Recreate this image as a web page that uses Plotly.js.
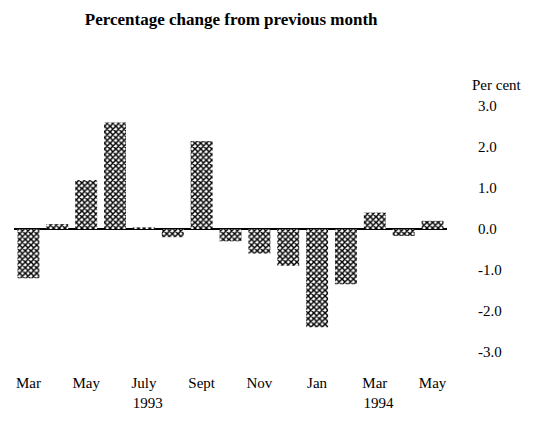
<!DOCTYPE html>
<html>
<head>
<meta charset="utf-8">
<script src="https://cdn.plot.ly/plotly-3.0.1.min.js"></script>
<style>html,body{margin:0;padding:0;background:#fff;}#chart{width:544px;height:427px;}</style>
</head>
<body>
<div id="chart"></div>
<script>
// Months Mar 1993 .. May 1994
const months = ["Mar 1993","Apr 1993","May 1993","Jun 1993","Jul 1993","Aug 1993","Sep 1993","Oct 1993","Nov 1993","Dec 1993","Jan 1994","Feb 1994","Mar 1994","Apr 1994","May 1994"];
const pctChange = [-1.2, 0.12, 1.2, 2.6, 0.04, -0.2, 2.15, -0.3, -0.6, -0.9, -2.4, -1.35, 0.4, -0.17, 0.2];
const xTickMonths = ["Mar 1993","May 1993","Jul 1993","Sep 1993","Nov 1993","Jan 1994","Mar 1994","May 1994"];
const xTickText = ["Mar","May","July<br>  1993","Sept","Nov","Jan","Mar<br>  1994","May"];
const yTickVals = [3, 2, 1, 0, -1, -2, -3];
const yTickText = ["3.0","2.0","1.0","0.0","-1.0","-2.0","-3.0"];

const serif = "Liberation Serif, Times New Roman, serif";

const trace = {
  type: "bar",
  x: months,
  y: pctChange,
  width: 0.76,
  marker: {
    color: "#ffffff",
    line: {width: 0},
    pattern: {shape: "x", fgcolor: "#000000", bgcolor: "#ffffff", size: 4, solidity: 0.6}
  },
  hoverinfo: "x+y",
  showlegend: false
};

const layout = {
  width: 544, height: 427,
  margin: {l: 14, r: 97, t: 98, b: 67},
  paper_bgcolor: "#ffffff",
  plot_bgcolor: "#ffffff",
  title: {
    text: "<b>Percentage change from previous month</b>",
    font: {family: serif, size: 17, color: "#000"},
    xref: "container", x: 0.425, xanchor: "center",
    yref: "container", y: 0.956, yanchor: "middle"
  },
  xaxis: {
    type: "category",
    categoryorder: "array",
    categoryarray: months,
    range: [-0.5, months.length - 0.5],
    tickmode: "array",
    tickvals: xTickMonths,
    ticktext: xTickText,
    ticks: "",
    showgrid: false,
    showline: false,
    zeroline: false,
    ticklabelstandoff: 12,
    tickfont: {family: serif, size: 15, color: "#000"}
  },
  yaxis: {
    side: "right",
    range: [-3.2, 3.2],
    tickmode: "array",
    tickvals: yTickVals,
    ticktext: yTickText,
    ticks: "",
    showgrid: false,
    showline: false,
    zeroline: true,
    zerolinecolor: "#000",
    zerolinewidth: 2,
    ticklabelstandoff: 30,
    tickfont: {family: serif, size: 15, color: "#000"}
  },
  annotations: [{
    text: "Per cent",
    xref: "paper", yref: "paper",
    x: 1.115, y: 1.05,
    xanchor: "center", yanchor: "middle",
    showarrow: false,
    font: {family: serif, size: 15, color: "#000"}
  }],
  bargap: 0.24
};

Plotly.newPlot("chart", [trace], layout, {displayModeBar: false, staticPlot: true});
</script>
</body>
</html>
